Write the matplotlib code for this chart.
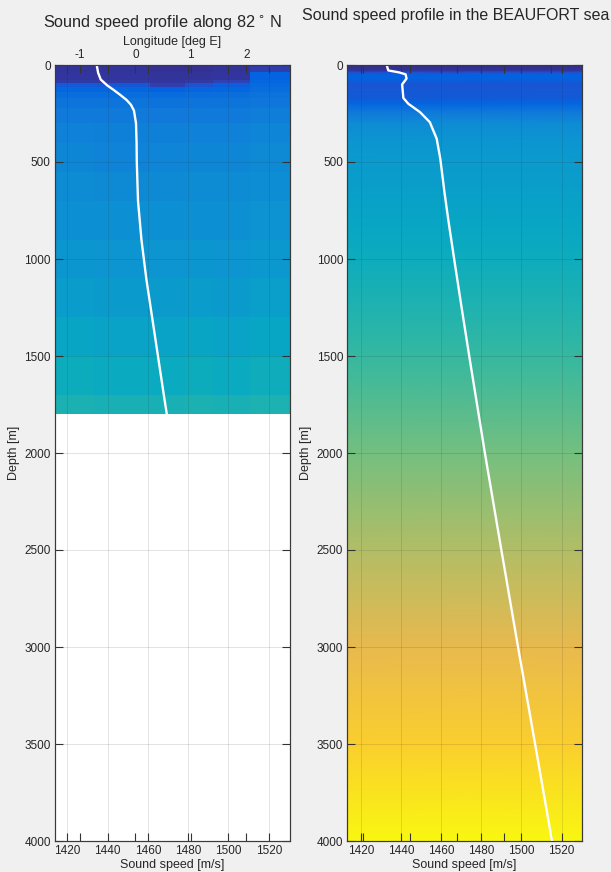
"""Two sound speed profiles drawn over their colour sections (MATLAB look)."""
import numpy as np
import matplotlib

matplotlib.use("Agg")
import matplotlib.pyplot as plt
from matplotlib.colors import LinearSegmentedColormap

# ---- left panel: section along 82 N ------------------------------------
lon_edges = [-1.45, -0.75, 0.27, 0.9, 1.4, 2.07, 2.78]
sect_depth_edges = [0, 35, 75, 95, 115, 140, 170, 220, 300, 400, 550, 700,
                    900, 1100, 1300, 1500, 1700, 1800]
sect_speed = [
    [1434.0, 1434.0, 1433.5, 1433.5, 1434.0, 1436.0],
    [1434.5, 1434.5, 1434.0, 1434.0, 1434.5, 1443.0],
    [1435.5, 1435.0, 1434.5, 1435.0, 1437.0, 1444.0],
    [1441.5, 1441.0, 1436.5, 1440.0, 1442.0, 1445.0],
    [1444.0, 1444.0, 1442.5, 1443.5, 1444.0, 1446.0],
    [1446.0, 1446.0, 1445.5, 1446.0, 1446.5, 1447.5],
    [1448.0, 1448.0, 1447.5, 1448.0, 1448.0, 1449.0],
    [1450.0, 1450.0, 1449.5, 1450.0, 1450.0, 1451.0],
    [1452.0, 1451.5, 1451.5, 1452.0, 1452.0, 1453.0],
    [1453.5, 1452.5, 1453.0, 1453.5, 1453.5, 1454.5],
    [1455.0, 1454.5, 1454.5, 1455.0, 1455.0, 1455.5],
    [1456.5, 1456.0, 1456.0, 1456.5, 1456.0, 1457.0],
    [1458.5, 1458.0, 1458.0, 1458.5, 1458.0, 1459.0],
    [1461.0, 1460.5, 1460.5, 1461.0, 1460.5, 1461.5],
    [1463.5, 1463.0, 1463.0, 1463.5, 1463.0, 1464.0],
    [1466.5, 1466.0, 1466.0, 1466.5, 1466.0, 1467.0],
    [1469.5, 1469.0, 1469.0, 1469.5, 1469.0, 1470.0],
]
prof82_depth = [0, 40, 75, 105, 130, 155, 180, 205, 235, 300, 400, 500,
                700, 900, 1100, 1300, 1500, 1700, 1800]
prof82_speed = [1434.6, 1435.3, 1436.6, 1439.8, 1443.2, 1446.4, 1449.4,
                1451.6, 1453.1, 1454.1, 1454.4, 1454.5, 1455.1, 1456.8,
                1459.2, 1462.1, 1465.0, 1467.9, 1469.4]

# ---- right panel: Beaufort sea profile ----------------------------------
beau_depth = [0, 28, 38, 48, 70, 100, 170, 200, 243, 295, 380, 483, 650,
              800, 1000, 1250, 1500, 2000, 2500, 3000, 3500, 4000]
beau_speed = [1432.9, 1433.7, 1439.0, 1442.3, 1442.8, 1440.6, 1441.2,
              1443.7, 1449.5, 1454.4, 1457.8, 1459.6, 1461.6, 1463.6,
              1466.5, 1470.2, 1474.0, 1481.8, 1490.0, 1498.3, 1506.8,
              1515.2]

speed_ticks = [1420, 1440, 1460, 1480, 1500, 1520]
depth_ticks = [0, 500, 1000, 1500, 2000, 2500, 3000, 3500, 4000]
lon_ticks = [-1, 0, 1, 2]
col_ticks = [1, 2, 3, 4, 5]

VMIN, VMAX = 1432, 1516

# parula-like colormap (anchors from MATLAB's table)
parula = LinearSegmentedColormap.from_list("parula", [
    (0 / 63, (0.2081, 0.1663, 0.5292)),
    (5 / 63, (0.1707, 0.2919, 0.7792)),
    (8 / 63, (0.0117, 0.3875, 0.8820)),
    (13 / 63, (0.0629, 0.4737, 0.8554)),
    (19 / 63, (0.0488, 0.5772, 0.8228)),
    (25 / 63, (0.0267, 0.6642, 0.7607)),
    (31 / 63, (0.1801, 0.7177, 0.6424)),
    (37 / 63, (0.4420, 0.7481, 0.5033)),
    (44 / 63, (0.7184, 0.7411, 0.3905)),
    (50 / 63, (0.9139, 0.7258, 0.3063)),
    (53 / 63, (0.9938, 0.7455, 0.2403)),
    (57 / 63, (0.9789, 0.8271, 0.1633)),
    (63 / 63, (0.9763, 0.9831, 0.0538)),
])

INK = "#262626"
plt.rcParams["font.family"] = ["Liberation Sans", "DejaVu Sans"]
plt.rcParams["axes.unicode_minus"] = False
plt.rcParams["axes.edgecolor"] = "#3a3a3a"
plt.rcParams["axes.linewidth"] = 0.8
plt.rcParams["text.color"] = INK
plt.rcParams["axes.labelcolor"] = INK

W, H = 611, 872
fig = plt.figure(figsize=(W / 100, H / 100), dpi=100, facecolor="#f0f0f0")


def px_rect(x0, y0, x1, y1):
    return [x0 / W, 1 - y1 / H, (x1 - x0) / W, (y1 - y0) / H]


def tick_style(ax, **kw):
    ax.tick_params(direction="in", length=6, width=0.8, color="#333333",
                   labelsize=8.5, labelcolor=INK, pad=3, **kw)


def speed_axes(rect, under, xlim, speed, depth):
    ax = fig.add_axes(rect, sharey=under)
    ax.patch.set_visible(False)
    ax.plot(speed, depth, color="white", lw=1.7, solid_capstyle="round")
    ax.set_xlim(*xlim)
    ax.set_ylim(4000, 0)
    ax.set_xticks(speed_ticks)
    ax.set_yticks(depth_ticks)
    ax.grid(True, color=INK, alpha=0.15, lw=0.6)
    tick_style(ax, top=True, bottom=True, left=True, right=True,
               labeltop=False, labelbottom=True, labelleft=True)
    ax.set_xlabel("Sound speed [m/s]", fontsize=9, labelpad=1)
    ax.set_ylabel("Depth [m]", fontsize=9, labelpad=3)
    return ax


# ---- left: section + profile ---------------------------------------------
rect_l = px_rect(55, 65, 289.5, 841)
ax_lon = fig.add_axes(rect_l)
ax_lon.set_facecolor("white")
ax_lon.pcolormesh(lon_edges, sect_depth_edges, np.array(sect_speed),
                  cmap=parula, vmin=VMIN, vmax=VMAX, shading="flat")
ax_lon.set_xlim(lon_edges[0], lon_edges[-1])
ax_lon.set_ylim(4000, 0)
ax_lon.set_xticks(lon_ticks)
ax_lon.xaxis.set_label_position("top")
ax_lon.set_xlabel("Longitude [deg E]", fontsize=9, labelpad=3)
tick_style(ax_lon, top=True, bottom=True, labeltop=True, labelbottom=False,
           left=False, labelleft=False)
speed_axes(rect_l, ax_lon, (1413.9, 1530.3), prof82_speed, prof82_depth)

# ---- right: Beaufort profile over its own colour ---------------------------
rect_r = px_rect(347.3, 65, 581.7, 841)
ax_col = fig.add_axes(rect_r)
col_lim = (0.66, 5.65)
n = len(beau_depth)
ax_col.pcolormesh(np.tile(col_lim, (n, 1)),
                  np.column_stack([beau_depth, beau_depth]),
                  np.column_stack([beau_speed, beau_speed]),
                  cmap=parula, vmin=VMIN, vmax=VMAX, shading="gouraud")
ax_col.set_xlim(*col_lim)
ax_col.set_ylim(4000, 0)
ax_col.set_xticks(col_ticks)
tick_style(ax_col, top=True, bottom=True, labeltop=False, labelbottom=False,
           left=False, labelleft=False)
speed_axes(rect_r, ax_col, (1413.3, 1530.0), beau_speed, beau_depth)

# ---- titles -------------------------------------------------------------
fig.text(162.5 / W, 1 - 26.5 / H,
         r"Sound speed profile along 82$\,^{\circ}$ N",
         ha="center", va="baseline", fontsize=11.7)
fig.text(456 / W, 1 - 20 / H, "Sound speed profile in the BEAUFORT sea",
         ha="center", va="baseline", fontsize=11.5)

fig.savefig("out.png", dpi=100, facecolor=fig.get_facecolor())
